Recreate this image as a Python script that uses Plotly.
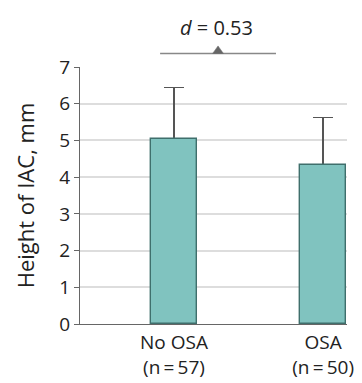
import plotly.graph_objects as go

categories = ["No OSA<br>(n\u2009=\u200957)", "OSA<br>(n\u2009=\u200950)"]
means = [5.03, 4.32]
sd_upper = [1.41, 1.30]
y_ticks = [0, 1, 2, 3, 4, 5, 6, 7]
effect_label = "<i>d</i> = 0.53"

FONT = "Open Sans, Noto Sans, DejaVu Sans, sans-serif"

fig = go.Figure()
# error bars (drawn beneath the solid bars so their lower cap is hidden)
fig.add_trace(go.Bar(
    x=[0, 1], y=means, width=0.31,
    marker=dict(color="rgba(0,0,0,0)", line=dict(width=0)),
    error_y=dict(type="data", array=sd_upper, symmetric=False, arrayminus=[0, 0],
                 color="#555555", thickness=1.3, width=10),
    showlegend=False, hoverinfo="skip",
))
fig.add_trace(go.Bar(
    x=[0, 1], y=means, width=0.31,
    marker=dict(color="#80C3BF", line=dict(color="#3F6F6C", width=1.4)),
    showlegend=False,
))

# page body adds an 8px offset, so the figure is 8px smaller in each direction
fig.update_layout(
    width=354, height=375,
    margin=dict(l=72, r=15, t=59, b=59),
    plot_bgcolor="white", paper_bgcolor="white",
    font=dict(family=FONT, size=16, color="#222222"),
    barmode="overlay", bargap=0,
    xaxis=dict(
        range=[-0.63, 1.16], automargin=False,
        tickvals=[0, 1], ticktext=categories,
        showgrid=False, zeroline=False,
        showline=True, linecolor="#666666", linewidth=1.2,
        ticks="outside", ticklen=1, tickcolor="rgba(0,0,0,0)",
        tickfont=dict(size=19),
    ),
    yaxis=dict(
        range=[0, 7], tickvals=y_ticks, automargin=False,
        showgrid=True, gridcolor="#DDDDDD", gridwidth=1.5,
        zeroline=False,
        showline=True, linecolor="#666666", linewidth=1.2,
        ticks="outside", ticklen=5, tickcolor="#666666", tickwidth=1.2,
        tickfont=dict(size=19),
        title=dict(text="Height of IAC, mm", font=dict(size=22), standoff=18),
    ),
)

# effect size annotation above bars
fig.add_shape(type="line", xref="paper", yref="paper",
              x0=0.30, x1=0.734, y0=1.053, y1=1.053,
              line=dict(color="#888888", width=1.5))
fig.add_shape(type="path", xref="paper", yref="paper",
              path="M 0.497 1.053 L 0.537 1.053 L 0.517 1.082 Z",
              fillcolor="#666666", line=dict(color="#666666", width=0.5))
fig.add_annotation(text=effect_label, xref="paper", yref="paper",
                   x=0.513, y=1.155, yanchor="middle", xanchor="center",
                   showarrow=False,
                   font=dict(size=20, color="#222222"))

fig.write_html("out.html")
